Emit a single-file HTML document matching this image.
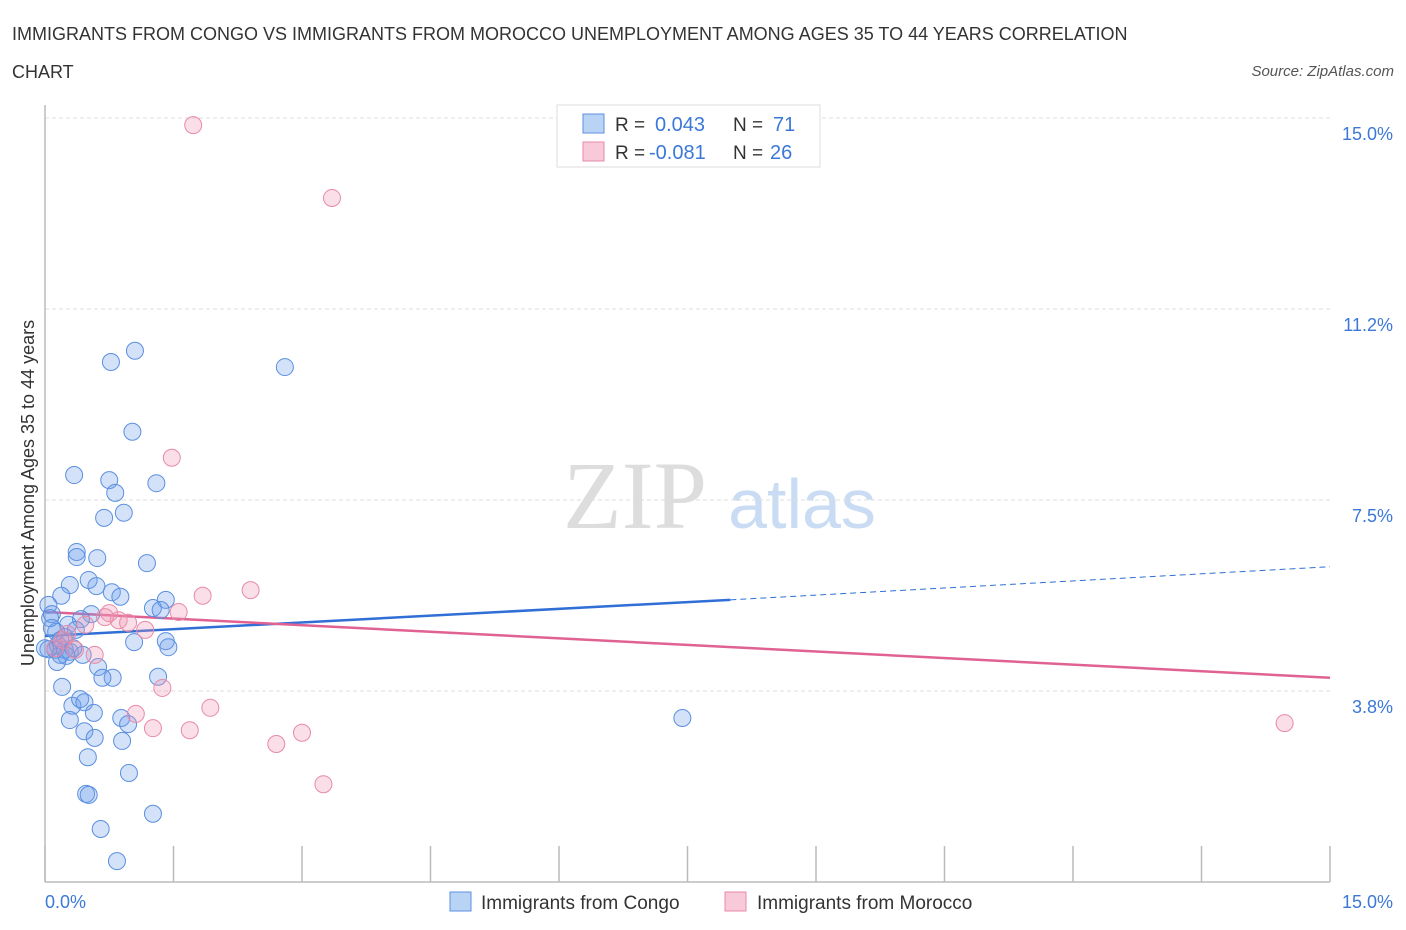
<!DOCTYPE html>
<html><head><meta charset="utf-8"><style>
body{margin:0;background:#fff;width:1406px;height:930px;overflow:hidden;font-family:"Liberation Sans",sans-serif}
svg{position:absolute;left:0;top:0}
</style></head><body>
<svg width="1406" height="930">
<text x="12" y="40" font-size="18" fill="#333">IMMIGRANTS FROM CONGO VS IMMIGRANTS FROM MOROCCO UNEMPLOYMENT AMONG AGES 35 TO 44 YEARS CORRELATION</text>
<text x="12" y="78" font-size="18" fill="#333">CHART</text>
<text x="1394" y="76" font-size="15" fill="#555" font-style="italic" text-anchor="end">Source: ZipAtlas.com</text>
<g>
<text x="635" y="528" font-size="96" fill="#ddd" font-family="Liberation Serif,serif" text-anchor="middle">ZIP</text>
<text x="802" y="528" font-size="70" fill="#c9dcf3" text-anchor="middle">atlas</text>
</g>
<g id="grid"></g>
<g id="axes"></g>
<g id="trends"></g>
<g id="pts"></g>
<g>
<rect x="557" y="105" width="263" height="62" fill="#fff" stroke="#ddd"/>
<rect x="583" y="114" width="21" height="19" fill="#b9d3f5" stroke="#5b8fe0"/>
<text x="615" y="131" font-size="19" fill="#333">R = </text><text x="655" y="131" font-size="20" fill="#3b78d8">0.043</text>
<text x="733" y="131" font-size="19" fill="#333">N = </text><text x="773" y="131" font-size="20" fill="#3b78d8">71</text>
<rect x="583" y="142" width="21" height="19" fill="#f8c9d8" stroke="#e88aa8"/>
<text x="615" y="159" font-size="19" fill="#333">R = </text><text x="649" y="159" font-size="20" fill="#3b78d8">-0.081</text>
<text x="733" y="159" font-size="19" fill="#333">N = </text><text x="770" y="159" font-size="20" fill="#3b78d8">26</text>
</g>
<g>
<rect x="450" y="892" width="21" height="19" fill="#b9d3f5" stroke="#5b8fe0"/>
<text x="481" y="909" font-size="19" fill="#333">Immigrants from Congo</text>
<rect x="725" y="892" width="21" height="19" fill="#f8c9d8" stroke="#e88aa8"/>
<text x="757" y="909" font-size="19" fill="#333">Immigrants from Morocco</text>
</g>
<text transform="translate(34,493) rotate(-90)" font-size="18" fill="#333" text-anchor="middle">Unemployment Among Ages 35 to 44 years</text>
<text x="45" y="908" font-size="18" fill="#3b78d8">0.0%</text>
<text x="1393" y="908" font-size="18" fill="#3b78d8" text-anchor="end">15.0%</text>
</svg>
<script>
const yTicks=[15,11.25,7.5,3.75];
const yTickLabels=["15.0%","11.2%","7.5%","3.8%"];
const xTicks=[0,1.5,3,4.5,6,7.5,9,10.5,12,13.5,15];
const congoX=[1.05,0.77,2.80,1.02,0.34,0.75,1.30,0.82,0.92,0.69,0.37,0.37,0.61,1.19,0.51,0.29,0.60,0.78,0.19,0.88,1.41,1.26,1.35,0.04,0.08,0.54,0.42,0.27,0.08,0.36,0.23,1.04,1.41,1.44,0.15,0.12,0.18,0.29,0.44,0.14,0.62,0.79,0.67,1.32,0.20,0.32,0.41,0.46,0.29,0.57,0.89,0.97,0.46,0.58,0.90,0.50,0.98,0.48,0.51,1.26,0.65,0.84,7.44,0.04,0.13,0.23,0.06,0.33,0.18,0.25,0.0];
const congoY=[10.43,10.21,10.11,8.84,7.99,7.89,7.83,7.64,7.25,7.15,6.48,6.38,6.36,6.26,5.93,5.83,5.81,5.69,5.62,5.60,5.54,5.38,5.34,5.44,5.26,5.26,5.16,5.05,4.99,4.95,4.81,4.71,4.73,4.61,4.65,4.56,4.46,4.52,4.46,4.32,4.22,4.01,4.01,4.03,3.83,3.46,3.59,3.53,3.18,3.32,3.22,3.10,2.96,2.83,2.77,2.45,2.14,1.73,1.71,1.34,1.04,0.41,3.22,4.57,4.91,4.56,5.18,4.59,4.75,4.44,4.59];
const moroccoX=[1.73,3.35,1.48,2.40,1.84,1.56,0.75,0.86,0.97,1.17,0.47,0.26,0.58,1.37,1.06,1.93,1.26,1.69,2.70,3.00,3.25,14.47,0.70,0.21,0.12,0.35];
const moroccoY=[14.86,13.43,8.33,5.73,5.62,5.30,5.28,5.14,5.09,4.95,5.05,4.87,4.46,3.81,3.30,3.42,3.02,2.98,2.71,2.93,1.92,3.12,5.20,4.75,4.59,4.56];
const congoTrend=[4.83,5.54,6.19]; // at x=0, 8.0, 15
const congoTrendX=[0,8.0,15];
const moroccoTrend=[5.30,4.01];
const moroccoTrendX=[0,15];
const X0=45,X1=1330,Y0=882,YTOP=118;
const sx=v=>X0+v*(X1-X0)/15;
const sy=v=>Y0-v*(Y0-YTOP)/15;
const NS="http://www.w3.org/2000/svg";
function mk(tag,attrs,parent){const e=document.createElementNS(NS,tag);for(const k in attrs)e.setAttribute(k,attrs[k]);document.getElementById(parent).appendChild(e);return e;}
yTicks.forEach((t,i)=>{
 const l=mk('line',{x1:X0,x2:X1,y1:sy(t),y2:sy(t),stroke:'#ddd','stroke-dasharray':'4,3'},'grid');
 
 
 const tx=mk('text',{x:1393,y:sy(t)+22,'font-size':18,fill:'#3b78d8','text-anchor':'end'},'grid');
 tx.textContent=yTickLabels[i];
 
 
});
const ax=mk('line',{x1:X0,x2:X0,y1:105,y2:Y0,stroke:'#bbb','stroke-width':1.5},'axes');


const bx=mk('line',{x1:X0,x2:X1,y1:Y0,y2:Y0,stroke:'#bbb','stroke-width':1.5},'axes');


xTicks.forEach(t=>{
 const l=mk('line',{x1:sx(t),x2:sx(t),y1:Y0,y2:Y0-36,stroke:'#bbb','stroke-width':1.5},'axes');
 
 
});
function dots(xs,ys,fill,stroke,name){
 xs.forEach((x,i)=>{
  const c=mk('circle',{cx:sx(x),cy:sy(ys[i]),r:8.5,fill:fill,stroke:stroke,'stroke-width':1},'pts');
  
  
 });
}
dots(congoX,congoY,'rgba(110,160,235,0.3)','#5b8fe0','congo-point');
dots(moroccoX,moroccoY,'rgba(240,150,180,0.3)','#e88aa8','morocco-point');
const t1=mk('line',{x1:sx(congoTrendX[0]),y1:sy(congoTrend[0]),x2:sx(congoTrendX[1]),y2:sy(congoTrend[1]),stroke:'#2f6fd6','stroke-width':2.5},'trends');


const t2=mk('line',{x1:sx(congoTrendX[1]),y1:sy(congoTrend[1]),x2:sx(congoTrendX[2]),y2:sy(congoTrend[2]),stroke:'#2f6fd6','stroke-width':1,'stroke-dasharray':'6,4'},'trends');


const t3=mk('line',{x1:sx(moroccoTrendX[0]),y1:sy(moroccoTrend[0]),x2:sx(moroccoTrendX[1]),y2:sy(moroccoTrend[1]),stroke:'#e06292','stroke-width':2.5},'trends');


</script>
</body></html>
